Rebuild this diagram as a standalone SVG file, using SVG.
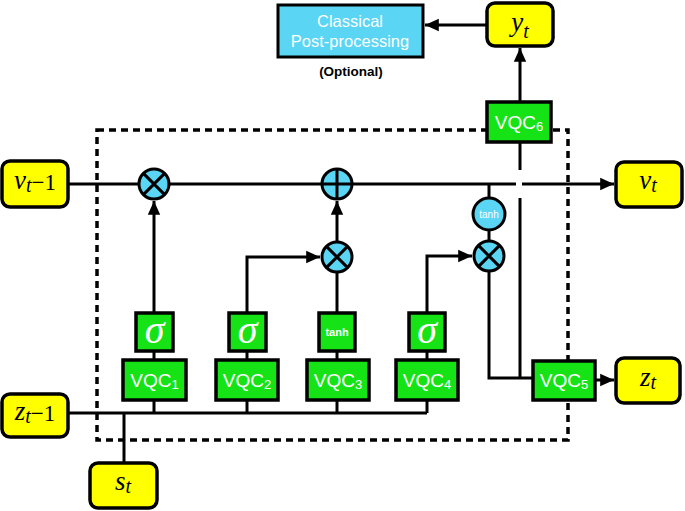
<svg xmlns="http://www.w3.org/2000/svg" width="685" height="511" viewBox="0 0 685 511">
<defs>
<marker id="ah" viewBox="0 0 10 10" refX="10" refY="5" markerWidth="4.6" markerHeight="4.6" orient="auto" markerUnits="strokeWidth">
<path d="M0,0.5 L10,5 L0,9.5 z" fill="#000"/>
</marker>
</defs>
<style>
.ln{stroke:#000;stroke-width:3;fill:none}
.arr{stroke:#000;stroke-width:3;fill:none;marker-end:url(#ah)}
.dash{stroke:#000;stroke-width:3.5;fill:none;stroke-dasharray:7 5}
.yel{fill:#FFFF00;stroke:#000;stroke-width:3.5}
.grn{fill:#16E316;stroke:#000;stroke-width:3.5}
.blu{fill:#5AD5F4;stroke:#000;stroke-width:3}
.lab{font-family:"Liberation Sans",serif;font-family:"Liberation Serif",serif;font-style:italic;font-size:27px;fill:#000;text-anchor:middle}
.sub{font-size:20px}
.vqc{font-family:"Liberation Sans",Arial,sans-serif;font-size:19px;fill:#fff;text-anchor:middle}
.vsub{font-size:13px}
.sig{font-family:"Liberation Serif",serif;font-style:italic;font-size:40px;fill:#fff;text-anchor:middle}
.tanh{font-family:"Liberation Sans",Arial,sans-serif;font-size:11px;font-weight:bold;fill:#fff;text-anchor:middle}
.tanhc{font-family:"Liberation Sans",Arial,sans-serif;font-size:10px;fill:#fff;text-anchor:middle}
.cls{font-family:"Liberation Sans",Arial,sans-serif;font-size:16.5px;fill:#fff;text-anchor:middle}
.opt{font-family:"Liberation Sans",Arial,sans-serif;font-size:13.5px;font-weight:bold;fill:#000;text-anchor:middle}
</style>

<g id="cell-boundary">
<rect x="97" y="130" width="471" height="310" class="dash"/>
</g>

<g id="connectors">
<path class="ln" d="M68,184 H516"/>
<path class="arr" d="M522,184 H614"/>
<path class="arr" d="M487,25 H425"/>
<path class="arr" d="M520,102 V48"/>
<path class="ln" d="M520,142 V170"/>
<path class="ln" d="M520,198 V378"/>
<path class="arr" d="M154,313 V201"/>
<path class="ln" d="M154,351 V360"/>
<path class="ln" d="M154,400 V413"/>
<path class="arr" d="M247,313 V257 H320"/>
<path class="ln" d="M247,351 V360"/>
<path class="ln" d="M247,400 V413"/>
<path class="ln" d="M337,313 V273"/>
<path class="arr" d="M337,241 V201"/>
<path class="ln" d="M337,351 V360"/>
<path class="ln" d="M337,400 V413"/>
<path class="arr" d="M427,313 V256 H472"/>
<path class="ln" d="M427,351 V360"/>
<path class="ln" d="M427,400 V413"/>
<path class="ln" d="M489,184 V198"/>
<path class="ln" d="M489,230 V240"/>
<path class="ln" d="M489,272 V378 H533"/>
<path class="arr" d="M595,380 H614"/>
<path class="ln" d="M68,413 H427"/>
<path class="ln" d="M124,413 V463"/>
</g>

<g id="classical">
<rect x="278" y="5" width="145" height="52" class="blu" stroke-width="3.5"/>
<text class="cls" x="350" y="27">Classical</text>
<text class="cls" x="350" y="47">Post-processing</text>
<text class="opt" x="351" y="76">(Optional)</text>
</g>

<g id="y_t">
<rect x="487" y="3" width="66" height="43" rx="8" class="yel"/>
<text class="lab" x="520" y="31">y<tspan class="sub" dy="7">t</tspan></text>
</g>

<g id="v_tm1">
<rect x="2" y="161" width="66" height="46" rx="8" class="yel"/>
<text class="lab" x="35" y="189">v<tspan class="sub" dy="3">t</tspan><tspan dy="-2" font-style="normal" font-size="23">−1</tspan></text>
</g>

<g id="v_t">
<rect x="616" y="162" width="66" height="45" rx="8" class="yel"/>
<text class="lab" x="648" y="189">v<tspan class="sub" dy="3">t</tspan></text>
</g>

<g id="z_tm1">
<rect x="2" y="394" width="66" height="43" rx="8" class="yel"/>
<text class="lab" x="35" y="420">z<tspan class="sub" dy="3">t</tspan><tspan dy="-2" font-style="normal" font-size="23">−1</tspan></text>
</g>

<g id="z_t">
<rect x="616" y="358" width="64" height="45" rx="8" class="yel"/>
<text class="lab" x="648" y="386">z<tspan class="sub" dy="3">t</tspan></text>
</g>

<g id="s_t">
<rect x="90" y="463" width="67" height="45" rx="8" class="yel"/>
<text class="lab" x="123" y="490">s<tspan class="sub" dy="3">t</tspan></text>
</g>

<g id="mult1">
<circle cx="154" cy="184" r="15" class="blu"/>
<path class="ln" d="M143.4,173.4 L164.6,194.6 M164.6,173.4 L143.4,194.6"/>
</g>

<g id="plus">
<circle cx="337" cy="184" r="15" class="blu"/>
<path class="ln" d="M322,184 H352 M337,169 V199"/>
</g>

<g id="mult2">
<circle cx="337" cy="257" r="15" class="blu"/>
<path class="ln" d="M326.4,246.4 L347.6,267.6 M347.6,246.4 L326.4,267.6"/>
</g>

<g id="tanh-circle">
<circle cx="489" cy="214" r="16" class="blu"/>
<text class="tanhc" x="489" y="218">tanh</text>
</g>

<g id="mult3">
<circle cx="489" cy="256" r="15" class="blu"/>
<path class="ln" d="M478.4,245.4 L499.6,266.6 M499.6,245.4 L478.4,266.6"/>
</g>

<g id="sigma1">
<rect x="136" y="313" width="37" height="38" class="grn"/>
<text class="sig" x="154.5" y="343">σ</text>
</g>
<g id="sigma2">
<rect x="229" y="313" width="37" height="38" class="grn"/>
<text class="sig" x="247.5" y="343">σ</text>
</g>
<g id="tanh-box">
<rect x="319" y="313" width="36" height="38" class="grn"/>
<text class="tanh" x="337" y="336">tanh</text>
</g>
<g id="sigma4">
<rect x="409" y="313" width="36" height="38" class="grn"/>
<text class="sig" x="427" y="343">σ</text>
</g>

<g id="vqc1">
<rect x="123" y="360" width="63" height="40" class="grn"/>
<text class="vqc" x="154.5" y="387">VQC<tspan class="vsub" dy="2">1</tspan></text>
</g>
<g id="vqc2">
<rect x="216" y="360" width="62" height="40" class="grn"/>
<text class="vqc" x="247" y="387">VQC<tspan class="vsub" dy="2">2</tspan></text>
</g>
<g id="vqc3">
<rect x="307" y="360" width="62" height="40" class="grn"/>
<text class="vqc" x="338" y="387">VQC<tspan class="vsub" dy="2">3</tspan></text>
</g>
<g id="vqc4">
<rect x="396" y="360" width="62" height="40" class="grn"/>
<text class="vqc" x="427" y="387">VQC<tspan class="vsub" dy="2">4</tspan></text>
</g>
<g id="vqc5">
<rect x="533" y="361" width="62" height="39" class="grn"/>
<text class="vqc" x="564" y="387">VQC<tspan class="vsub" dy="2">5</tspan></text>
</g>
<g id="vqc6">
<rect x="487" y="102" width="64" height="40" class="grn"/>
<text class="vqc" x="519" y="129">VQC<tspan class="vsub" dy="2">6</tspan></text>
</g>
</svg>
